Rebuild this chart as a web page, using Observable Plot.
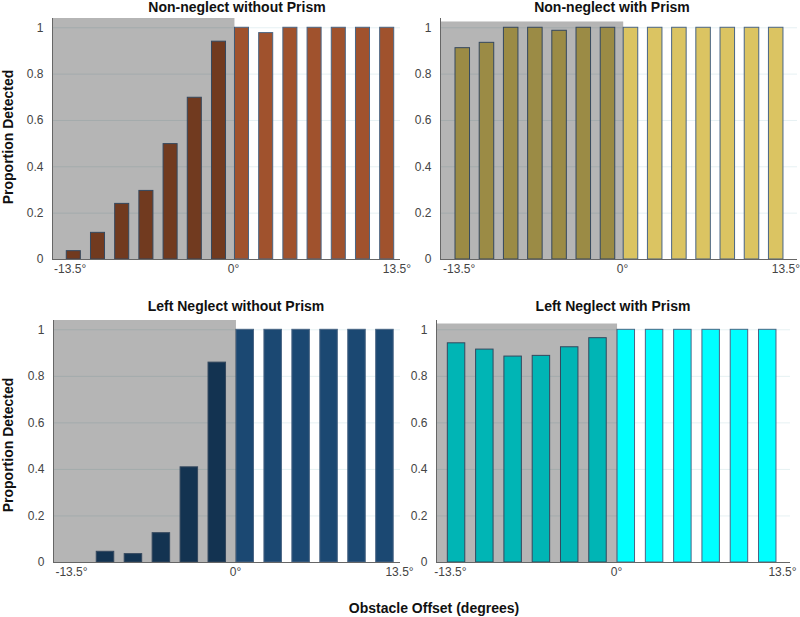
<!DOCTYPE html>
<html><head><meta charset="utf-8">
<script src="https://cdn.jsdelivr.net/npm/d3@7"></script>
<script src="https://cdn.jsdelivr.net/npm/@observablehq/plot@0.6"></script>
<style>
body{margin:0;background:#fff;font-family:"Liberation Sans",Arial,sans-serif;}
#wrap{position:relative;width:800px;height:617px;overflow:hidden;background:#fff;}
.panel{position:absolute;}
.title{position:absolute;font-weight:bold;font-size:14px;line-height:14px;color:#111;white-space:nowrap;transform:translateX(-50%);}
.ylab{position:absolute;font-weight:bold;font-size:14px;line-height:14px;color:#111;white-space:nowrap;transform:translate(-50%,-50%) rotate(-90deg);}
.xlab{position:absolute;font-weight:bold;font-size:14px;line-height:14px;color:#111;white-space:nowrap;transform:translateX(-50%);}
</style></head>
<body><div id="wrap"></div>
<script>
// ---- data ----
const topOffsets = [-13.2, -11.2, -9.2, -7.2, -5.2, -3.2, -1.2, 0.7, 2.7, 4.7, 6.7, 8.7, 10.7, 12.7];
const bottomOffsets = [-13, -10.7, -8.4, -6.1, -3.8, -1.5, 0.8, 3.1, 5.4, 7.7, 10.0, 12.3];
const nonNeglectNoPrism = [0.036, 0.115, 0.24, 0.296, 0.498, 0.698, 0.94, 1, 0.977, 1, 1, 1, 1, 1];
const nonNeglectPrism = [0.912, 0.935, 1, 1, 0.987, 1, 1, 1, 1, 1, 1, 1, 1, 1];
const neglectNoPrism = [0, 0.046, 0.036, 0.126, 0.409, 0.859, 1, 1, 1, 1, 1, 1];
const neglectPrism = [0.942, 0.915, 0.885, 0.888, 0.925, 0.964, 1, 1, 1, 1, 1, 1];
const panelTitles = ["Non-neglect without Prism", "Non-neglect with Prism", "Left Neglect without Prism", "Left Neglect with Prism"];
const xTicks = [-13.5, 0, 13.5];
const yTicks = [0, 0.2, 0.4, 0.6, 0.8, 1];
const yAxisTitle = "Proportion Detected";
const xAxisTitle = "Obstacle Offset (degrees)";

// ---- layout / style ----
const panels = [
  {title: panelTitles[0], values: nonNeglectNoPrism, offsets: topOffsets, color: "#a0522d",
   left: 0, top: 0, width: 400, height: 289, mt: 18, mb: 30, ml: 52, mr: 0,
   domain: [-14.96, 13.8], bw: 1.16, shadeTop: 1.04, titleX: 237, titleY: 0},
  {title: panelTitles[1], values: nonNeglectPrism, offsets: topOffsets, color: "#dbc462",
   left: 400, top: 0, width: 400, height: 289, mt: 18, mb: 30, ml: 40, mr: 3,
   domain: [-15.04, 14.46], bw: 1.2, shadeTop: 1.025, titleX: 612, titleY: 0},
  {title: panelTitles[2], values: neglectNoPrism, offsets: bottomOffsets, color: "#1b4872",
   left: 0, top: 290, width: 400, height: 302, mt: 30, mb: 30, ml: 53, mr: 0,
   domain: [-14.98, 13.58], bw: 1.44, shadeTop: 1.04, titleX: 236, titleY: 299},
  {title: panelTitles[3], values: neglectPrism, offsets: bottomOffsets, color: "#00ffff",
   left: 400, top: 290, width: 400, height: 302, mt: 30, mb: 30, ml: 36, mr: 10,
   domain: [-14.63, 14.15], bw: 1.42, shadeTop: 1.025, titleX: 613, titleY: 299}
];

const wrap = document.getElementById("wrap");

for (const p of panels) {
  const data = p.offsets.map((x, i) => ({x, v: p.values[i]}));
  const half = p.offsets.length / 2;
  const shadeEnd = p.offsets[half] - p.bw / 2;
  const chart = Plot.plot({
    width: p.width, height: p.height,
    marginLeft: p.ml, marginRight: p.mr, marginTop: p.mt, marginBottom: p.mb,
    style: {background: "transparent", overflow: "visible", fontFamily: "Liberation Sans, Arial, sans-serif", fontSize: "12px", color: "#444"},
    x: {domain: p.domain, ticks: xTicks, tickFormat: d => d + "°", tickSize: 0, tickPadding: 5, label: null},
    y: {domain: [0, 1.04], ticks: yTicks, tickFormat: d => String(d), tickSize: 0, tickPadding: 9, label: null},
    marks: [
      Plot.ruleY(yTicks.filter(d => d > 0), {stroke: "#e6f1f3", strokeWidth: 1}),
      Plot.rectY(data, {x1: d => d.x - p.bw / 2, x2: d => d.x + p.bw / 2, y1: 0, y2: "v",
        fill: p.color, stroke: "#4a6584", strokeWidth: 1}),
      Plot.rect([0], {x1: () => p.domain[0], x2: () => shadeEnd, y1: () => 0, y2: () => p.shadeTop,
        fill: "black", fillOpacity: 0.29}),
      Plot.ruleX([p.domain[0]], {stroke: "#666", strokeWidth: 1}),
      Plot.ruleY([0], {stroke: "#666", strokeWidth: 1})
    ]
  });
  chart.classList.add("panel");
  chart.style.left = p.left + "px";
  chart.style.top = p.top + "px";
  wrap.appendChild(chart);

  const t = document.createElement("div");
  t.className = "title";
  t.textContent = p.title;
  t.style.left = p.titleX + "px";
  t.style.top = p.titleY + "px";
  wrap.appendChild(t);
}

for (const cy of [137, 445]) {
  const yl = document.createElement("div");
  yl.className = "ylab";
  yl.textContent = yAxisTitle;
  yl.style.left = "8px";
  yl.style.top = cy + "px";
  wrap.appendChild(yl);
}

const xl = document.createElement("div");
xl.className = "xlab";
xl.textContent = xAxisTitle;
xl.style.left = "434px";
xl.style.top = "601px";
wrap.appendChild(xl);
</script>
</body></html>
